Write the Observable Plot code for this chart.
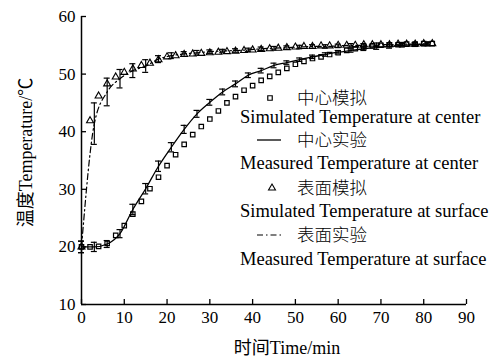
<!DOCTYPE html>
<html><head><meta charset="utf-8">
<script src="https://cdn.jsdelivr.net/npm/d3@7"></script>
<script src="https://cdn.jsdelivr.net/npm/@observablehq/plot@0.6"></script>
<style>
body{margin:0;background:#fff}
#chart{position:relative;width:500px;height:358px}
#chart svg text{font-family:"Liberation Serif","Noto Sans CJK SC",serif !important}
#chart svg text.cjk{font-family:"Noto Sans CJK SC",sans-serif !important;font-weight:300}
</style>
</head><body><div id="chart"></div>
<script>
// x ticks / y ticks
const xTicks = [0,10,20,30,40,50,60,70,80,90];
const yTicks = [10,20,30,40,50,60];

// simulated series (every 2 min)
const simTime = [0,2,4,6,8,10,12,14,16,18,20,22,24,26,28,30,32,34,36,38,40,42,44,46,48,50,52,54,56,58,60,62,64,66,68,70,72,74,76,78,80,82];
const simCenter = [20.0,20.0,20.1,20.6,22.0,23.7,25.7,27.9,30.1,32.1,34.1,36.0,37.8,39.5,40.9,42.2,43.6,45.0,46.1,47.2,48.0,48.9,49.6,50.3,51.0,51.7,52.2,52.7,53.0,53.4,53.7,54.1,54.4,54.7,54.9,55.0,55.1,55.1,55.2,55.2,55.3,55.3];
const simSurface = [20.0,41.9,46.2,48.3,49.5,50.3,50.9,51.5,51.9,52.5,53.0,53.2,53.4,53.5,53.6,53.7,53.8,53.9,54.0,54.1,54.2,54.3,54.4,54.5,54.6,54.7,54.8,54.8,54.9,54.9,55.0,55.0,55.0,55.1,55.1,55.1,55.1,55.2,55.2,55.2,55.3,55.3];

// measured series (every 3 min)
const measTime = [0,3,6,9,12,15,18,21,24,27,30,33,36,39,42,45,48,51,54,57,60,63,66,69,72,75,78,81];
const measCenter = [20.0,20.0,20.5,22.3,26.5,30.1,34.0,37.3,40.4,43.1,45.1,46.9,48.3,49.8,50.6,51.5,52.0,52.5,53.0,53.4,53.8,54.1,54.4,54.6,54.8,55.0,55.1,55.2];
const measCenterErr = [1.0,0.8,0.6,0.7,0.9,0.9,0.9,0.8,0.7,0.6,0.5,0.5,0.5,0.4,0.4,0.4,0.3,0.3,0.3,0.3,0.3,0.3,0.3,0.3,0.3,0.3,0.3,0.3];
const measSurface = [20.0,41.4,46.9,49.2,50.6,51.4,52.6,53.2,53.5,53.7,53.9,54.0,54.1,54.2,54.4,54.5,54.6,54.7,54.8,54.8,54.9,55.0,55.0,55.1,55.1,55.2,55.2,55.3];
const measSurfaceErr = [1.0,3.6,2.4,1.6,1.2,1.1,0.6,0.5,0.4,0.4,0.3,0.3,0.3,0.3,0.3,0.3,0.3,0.3,0.3,0.3,0.3,0.3,0.3,0.3,0.3,0.3,0.3,0.3];

// legend labels
const legendCN = ["中心模拟","中心实验","表面模拟","表面实验"];
const legendEN = ["Simulated Temperature at center","Measured Temperature at center","Simulated Temperature at surface","Measured Temperature at surface"];
const xTitle = "时间Time/min";
const yTitle = "温度Temperature/℃";

const sim = simTime.map((t,i)=>({t, c: simCenter[i], s: simSurface[i]}));
const meas = measTime.map((t,i)=>({t, c: measCenter[i], ce: measCenterErr[i], s: measSurface[i], se: measSurfaceErr[i]}));

const W = 500, H = 358, mL = 81, mR = 34, mT = 16, mB = 54;
const fw = W - mL - mR, fh = H - mT - mB;
const dashDot = "6,3,1.5,3";

const chart = Plot.plot({
  width: W, height: H,
  marginLeft: mL, marginRight: mR, marginTop: mT, marginBottom: mB,
  style: {color: "#000", background: "#fff"},
  x: {domain: [0, 90]},
  y: {domain: [10, 60]},
  marks: [
    Plot.axisX({ticks: xTicks, tickSize: 0, tickPadding: 6, label: null, fontSize: 17}),
    Plot.axisY({ticks: yTicks, tickSize: 0, tickPadding: 6, label: null, fontSize: 17}),
    Plot.ruleX(xTicks, {x: d => d, insetTop: fh - 5, strokeWidth: 1.3}),
    Plot.ruleY(yTicks, {y: d => d, insetRight: fw - 5, strokeWidth: 1.3}),
    Plot.ruleY([10], {strokeWidth: 1.5}),
    Plot.ruleX([0], {strokeWidth: 1.5}),
    Plot.text([xTitle], {text: d => d, frameAnchor: "bottom", textAnchor: "middle", lineAnchor: "middle", dx: 13, dy: 44, fontSize: 18}),
    Plot.text([yTitle], {text: d => d, frameAnchor: "left", textAnchor: "middle", lineAnchor: "middle", rotate: -90, dx: -55, dy: -8, fontSize: 18}),
    // measured surface: dash-dot line + error bars
    Plot.line(meas, {x: "t", y: "s", stroke: "#000", strokeWidth: 1.2, strokeDasharray: dashDot, curve: "monotone-x"}),
    Plot.ruleX(meas, {x: "t", y1: d => d.s - d.se, y2: d => d.s + d.se, strokeWidth: 1.2}),
    Plot.ruleY(meas, {y: d => d.s - d.se, x1: "t", x2: "t", insetLeft: -3, insetRight: -3, strokeWidth: 1.2}),
    Plot.ruleY(meas, {y: d => d.s + d.se, x1: "t", x2: "t", insetLeft: -3, insetRight: -3, strokeWidth: 1.2}),
    // measured center: solid line + error bars
    Plot.line(meas, {x: "t", y: "c", stroke: "#000", strokeWidth: 1.3, curve: "monotone-x"}),
    Plot.ruleX(meas, {x: "t", y1: d => d.c - d.ce, y2: d => d.c + d.ce, strokeWidth: 1.2}),
    Plot.ruleY(meas, {y: d => d.c - d.ce, x1: "t", x2: "t", insetLeft: -3, insetRight: -3, strokeWidth: 1.2}),
    Plot.ruleY(meas, {y: d => d.c + d.ce, x1: "t", x2: "t", insetLeft: -3, insetRight: -3, strokeWidth: 1.2}),
    // simulated
    Plot.dot(sim, {x: "t", y: "c", symbol: "square", r: 2.5, stroke: "#000", fill: "none", strokeWidth: 1.2}),
    Plot.dot(sim, {x: "t", y: "s", symbol: "triangle", r: 2.6, stroke: "#000", fill: "none", strokeWidth: 1.1})
  ]
});

const root = document.getElementById("chart");
root.appendChild(chart);

// legend (pixel layout inside the frame)
const svg = d3.select(chart);
const g = svg.append("g").attr("fill", "#000").attr("text-anchor", "start");
const rowCN = [98, 140, 188, 235];
const rowEN = [117, 163, 211, 259];
const cnX = 297, enX = 240;
legendCN.forEach((s, i) => {
  g.append("text").attr("class", "cjk").attr("x", cnX).attr("y", rowCN[i]).attr("dy", "0.36em").attr("text-anchor", "start")
    .attr("font-size", 17.5).text(s);
});
legendEN.forEach((s, i) => {
  g.append("text").attr("x", enX).attr("y", rowEN[i]).attr("dy", "0.34em").attr("text-anchor", "start")
    .attr("font-size", 18.5).text(s);
});
// swatches
g.append("path").attr("d", d3.symbol(d3.symbolSquare, 20)()).attr("transform", `translate(270,${rowCN[0]})`).attr("fill", "none").attr("stroke", "#000").attr("stroke-width", 1.2);
g.append("line").attr("x1", 257).attr("x2", 281).attr("y1", rowCN[1]).attr("y2", rowCN[1]).attr("stroke", "#000").attr("stroke-width", 1.3);
g.append("path").attr("d", d3.symbol(d3.symbolTriangle, 21)()).attr("transform", `translate(272,${rowCN[2]})`).attr("fill", "none").attr("stroke", "#000").attr("stroke-width", 1.1);
g.append("line").attr("x1", 257).attr("x2", 283).attr("y1", rowCN[3]).attr("y2", rowCN[3]).attr("stroke", "#000").attr("stroke-width", 1.2).attr("stroke-dasharray", dashDot);
</script>
</body></html>
